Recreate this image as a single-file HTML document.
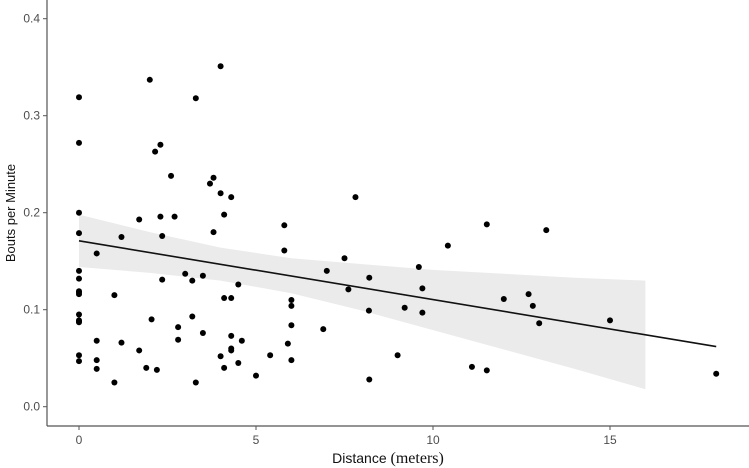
<!DOCTYPE html>
<html><head><meta charset="utf-8"><style>
body{margin:0;background:#fff;}
svg{display:block;font-family:"Liberation Sans",sans-serif;}
.serif{font-family:"Liberation Serif",serif;}
</style></head><body>
<svg id="chart" width="749" height="468"></svg>
<script>
const xs=[0,0,0,0,0,0,0,0,0,0,0,0,0,0,0,0.5,0.5,0.5,0.5,1,1,1.2,1.2,1.7,1.7,1.9,2,2.05,2.15,2.2,2.3,2.3,2.35,2.35,2.6,2.7,2.8,2.8,3.0,3.2,3.2,3.3,3.3,3.5,3.5,3.7,3.8,3.8,4.0,4.0,4.0,4.1,4.1,4.1,4.3,4.3,4.3,4.3,4.3,4.5,4.5,4.6,5.0,5.4,5.8,5.8,5.9,6.0,6.0,6.0,6.0,7.81,11.52,13.2,10.42,7.5,9.6,7.0,8.2,7.61,9.7,12.0,12.7,12.82,9.2,8.19,9.7,15.0,13.0,6.9,9.0,11.1,11.52,8.2,18.0];
const ys=[0.319,0.272,0.200,0.179,0.140,0.132,0.119,0.118,0.116,0.095,0.089,0.088,0.087,0.053,0.047,0.158,0.068,0.048,0.039,0.115,0.025,0.175,0.066,0.193,0.058,0.040,0.337,0.090,0.263,0.038,0.196,0.270,0.176,0.131,0.238,0.196,0.082,0.069,0.137,0.093,0.130,0.318,0.025,0.135,0.076,0.230,0.236,0.180,0.220,0.351,0.052,0.198,0.112,0.040,0.216,0.112,0.073,0.060,0.058,0.126,0.045,0.068,0.032,0.053,0.187,0.161,0.065,0.110,0.104,0.084,0.048,0.216,0.188,0.182,0.166,0.153,0.144,0.140,0.133,0.121,0.122,0.111,0.116,0.104,0.102,0.099,0.097,0.089,0.086,0.080,0.053,0.041,0.0375,0.028,0.034];
const bandX=[0,2,4,6,8,10,12,14,16];
const bandUpper=[0.198,0.180,0.164,0.153,0.147,0.141,0.137,0.133,0.130];
const bandLower=[0.144,0.138,0.130,0.117,0.099,0.079,0.059,0.039,0.018];
const fitX=[0,18];
const fitY=[0.171,0.062];
const xTicks=[0,5,10,15];
const yTicks=[0,0.1,0.2,0.3,0.4];
const yTickLabels=["0.0","0.1","0.2","0.3","0.4"];

const sx=v=>79+35.4*v;
const sy=v=>406.7-970*v;
const svg=document.getElementById('chart');
const NS='http://www.w3.org/2000/svg';
function mk(t,a){const e=document.createElementNS(NS,t);for(const k in a)e.setAttribute(k,a[k]);svg.appendChild(e);return e;}

let pts=bandX.map((x,i)=>sx(x)+','+sy(bandUpper[i]));
pts=pts.concat(bandX.slice().reverse().map((x,j)=>{const i=bandX.length-1-j;return sx(x)+','+sy(bandLower[i]);}));
const band=mk('polygon',{points:pts.join(' '),fill:'#ebebeb'});



const fit=mk('line',{x1:sx(fitX[0]),y1:sy(fitY[0]),x2:sx(fitX[1]),y2:sy(fitY[1]),stroke:'#111','stroke-width':1.6});



xs.forEach((x,i)=>{
  const c=mk('circle',{cx:sx(x),cy:sy(ys[i]),r:3,fill:'#000'});
  
  
});

const ya=mk('line',{x1:47,y1:0,x2:47,y2:426,stroke:'#555','stroke-width':1.2});


const xa=mk('line',{x1:47,y1:426,x2:749,y2:426,stroke:'#555','stroke-width':1.2});



yTicks.forEach((v,i)=>{
  mk('line',{x1:43,y1:sy(v),x2:47,y2:sy(v),stroke:'#555'});
  const t=mk('text',{x:40,y:sy(v)+4,'text-anchor':'end','font-size':12,fill:'#4d4d4d'});
  t.textContent=yTickLabels[i];
  
  
});
xTicks.forEach(v=>{
  mk('line',{x1:sx(v),y1:426,x2:sx(v),y2:430,stroke:'#555'});
  const t=mk('text',{x:sx(v),y:444,'text-anchor':'middle','font-size':12,fill:'#4d4d4d'});
  t.textContent=v;
  
  
});

const xt=mk('text',{x:388,y:463,'text-anchor':'middle','font-size':14,fill:'#111'});


xt.appendChild(document.createTextNode('Distance '));
const ts=document.createElementNS(NS,'tspan');
ts.setAttribute('style','font-family:"Liberation Serif",serif;font-size:16px');
ts.textContent='(meters)';
xt.appendChild(ts);

const yt=mk('text',{x:0,y:0,'text-anchor':'middle','font-size':13,fill:'#111',transform:'translate(15,213) rotate(-90)'});
yt.textContent='Bouts per Minute';


</script>
</body></html>
